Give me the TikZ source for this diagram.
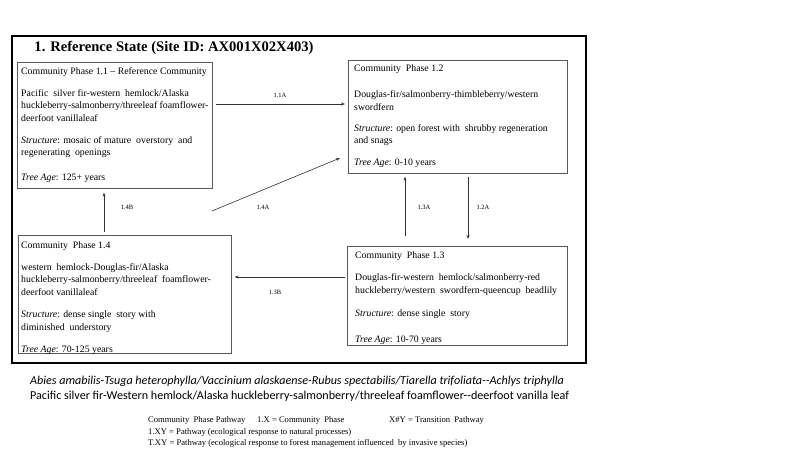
\documentclass[tikz,border=0pt]{standalone}
\usepackage{fontspec}
\setmainfont{Liberation Serif}
\newfontfamily\calib{Carlito}
\usetikzlibrary{arrows.meta}
\begin{document}
\begin{tikzpicture}[x=1pt,y=-1pt,
 box/.style={draw=black!65,line width=0.6pt,inner sep=0,anchor=north west},
 txt/.style={anchor=north west,inner sep=0,align=left,font=\fontsize{9.8}{12.5}\selectfont},
 arr/.style={draw=black!80,line width=0.6pt,-{Stealth[length=4pt,width=3pt]}},
 lbl/.style={font=\fontsize{6.5}{7}\selectfont,inner sep=0},
 leg/.style={font=\fontsize{8.6}{9}\selectfont,inner sep=0,anchor=base west},
 bot/.style={font=\calib\fontsize{12.1}{13}\selectfont,inner sep=0,anchor=base west}
 ]
\useasboundingbox[fill=white] (0,0) rectangle (800,450);
\node[draw=black,line width=1.8pt,inner sep=0,anchor=north west,minimum width=574pt,minimum height=327pt] (frame) at (11,35) {};
\node[font=\bfseries\fontsize{14.6}{16}\selectfont,inner sep=0] (title) at (174,48) {1. Reference State (Site ID: AX001X02X403)};

% boxes
\node[box,minimum width=195pt,minimum height=126pt] (b11) at (17,62) {};
\node[box,minimum width=219pt,minimum height=113pt] (b12) at (348,60) {};
\node[box,minimum width=213pt,minimum height=118pt] (b14) at (18,235) {};
\node[box,minimum width=220pt,minimum height=99pt] (b13) at (347,246) {};

% texts
\node[txt] (t11) at (21,67) {Community Phase 1.1 -- Reference Community\\[9.5pt]
Pacific\ \ silver fir-western\ \ hemlock/Alaska\\
huckleberry-salmonberry/threeleaf foamflower-\\
deerfoot vanillaleaf\\[9.5pt]
\textit{Structure}: mosaic of mature\ \ overstory\ \ and\\
regenerating\ \ openings\\[12pt]
\textit{Tree Age}: 125+ years};

\node[txt] (t12) at (354,64) {Community\ \ Phase 1.2\\[14pt]
Douglas-fir/salmonberry-thimbleberry/western\\
swordfern\\[8.5pt]
\textit{Structure}: open forest with\ \ shrubby regeneration\\
and snags\\[9.5pt]
\textit{Tree Age}: 0-10 years};

\node[txt] (t14) at (21,241) {Community\ \ Phase 1.4\\[9.5pt]
western\ \ hemlock-Douglas-fir/Alaska\\
huckleberry-salmonberry/threeleaf\ \ foamflower-\\
deerfoot vanillaleaf\\[10pt]
\textit{Structure}: dense single\ \ story with\\
diminished\ \ understory\\[10pt]
\textit{Tree Age}: 70-125 years};

\node[txt] (t13) at (355,251) {Community\ \ Phase 1.3\\[10pt]
Douglas-fir-western\ \ hemlock/salmonberry-red\\
huckleberry/western\ \ swordfern-queencup\ \ beadlily\\[11pt]
\textit{Structure}: dense single\ \ story\\[13pt]
\textit{Tree Age}: 10-70 years};

% helper coordinates
\coordinate (y11a) at (0,104);
\coordinate (y14a) at (0,158);
\coordinate (s14a) at (212,211);
\coordinate (x14b) at (104,0);
\coordinate (x13a) at (405,0);
\coordinate (x12a) at (468,0);
\coordinate (y13b) at (0,277);

% arrows
\draw[arr] ([xshift=3pt]b11.east |- y11a) -- ([xshift=-3pt]b12.west |- y11a);
\draw[arr] (s14a) -- ([xshift=-8pt]b12.west |- y14a);
\draw[arr] ([yshift=3pt]b14.north -| x14b) -- ([yshift=-4pt]b11.south -| x14b);
\draw[arr] ([yshift=10pt]b13.north -| x13a) -- ([yshift=-3pt]b12.south -| x13a);
\draw[arr] ([yshift=-3pt]b12.south -| x12a) -- ([yshift=7pt]b13.north -| x12a);
\draw[arr] ([xshift=-2pt]b13.west |- y13b) -- ([xshift=3pt]b14.east |- y13b);

% labels
\node[lbl] (l11a) at (280,95) {1.1A};
\node[lbl] (l14a) at (263,207) {1.4A};
\node[lbl] (l14b) at (127,207) {1.4B};
\node[lbl] (l13a) at (424,207) {1.3A};
\node[lbl] (l12a) at (483,207) {1.2A};
\node[lbl] (l13b) at (275,292) {1.3B};

% bottom text
\node[bot] (sci) at (30,384) {\itshape Abies amabilis-Tsuga heterophylla/Vaccinium alaskaense-Rubus spectabilis/Tiarella trifoliata--Achlys triphylla};
\node[bot] (com) at (30,399) {Pacific silver fir-Western hemlock/Alaska huckleberry-salmonberry/threeleaf foamflower--deerfoot vanilla leaf};

% legend
\node[leg] (lg1) at (148,422) {Community\ \ Phase Pathway};
\node[leg] (lg2) at (257,422) {1.X = Community\ \ Phase};
\node[leg] (lg3) at (389,422) {X\#Y = Transition\ \ Pathway};
\node[leg] (lg4) at (148,434) {1.XY = Pathway (ecological response to natural processes)};
\node[leg] (lg5) at (148,445) {T.XY = Pathway (ecological response to forest management influenced\ \ by invasive species)};
\end{tikzpicture}
\end{document}
